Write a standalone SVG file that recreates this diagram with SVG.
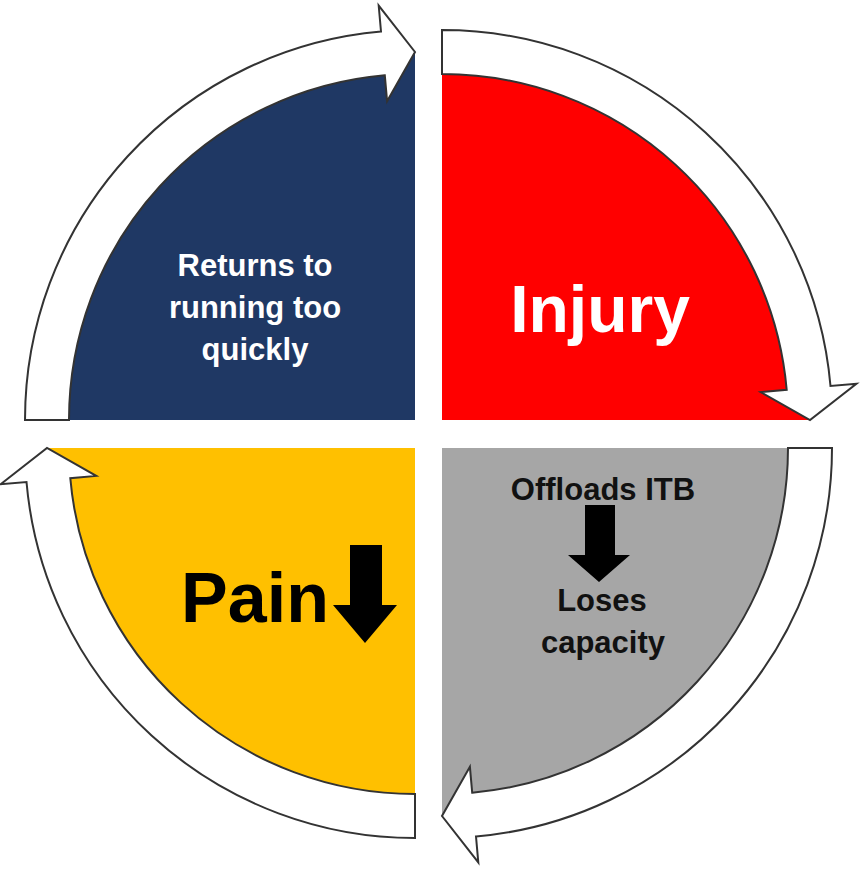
<svg xmlns="http://www.w3.org/2000/svg" width="862" height="886" viewBox="0 0 862 886">
<style>
.arr{fill:#fff;stroke:#333;stroke-width:2;stroke-linejoin:miter}
.t{font-family:"Liberation Sans",Arial,sans-serif;font-weight:bold;text-anchor:middle}
</style>
<rect width="862" height="886" fill="#fff"/>
<g id="returns">
<path d="M415 420 L47 420 A368 368 0 0 1 415 52 Z" fill="#1f3864"/>
<text class="t" fill="#fff" font-size="31" x="255" y="276">Returns to</text>
<text class="t" fill="#fff" font-size="31" x="255" y="318">running too</text>
<text class="t" fill="#fff" font-size="31" x="255" y="360">quickly</text>
</g>
<g id="injury">
<path d="M442 420 L442 52 A368 368 0 0 1 810 420 Z" fill="#ff0000"/>
<text class="t" fill="#fff" font-size="66" x="600" y="332">Injury</text>
</g>
<g id="offloads">
<path d="M442 448 L810 448 A368 368 0 0 1 442 816 Z" fill="#a6a6a6"/>
<text class="t" fill="#111" font-size="31" x="603" y="500">Offloads ITB</text>
<path d="M585 505 H615 V555 H630 L599 582 L568 555 H585 Z" fill="#000"/>
<text class="t" fill="#111" font-size="31" x="602" y="611">Loses</text>
<text class="t" fill="#111" font-size="31" x="603" y="653">capacity</text>
</g>
<g id="pain">
<path d="M415 448 L415 816 A368 368 0 0 1 47 448 Z" fill="#ffc000"/>
<text class="t" fill="#000" font-size="70" x="255" y="622">Pain</text>
<path d="M350 545 H382 V605 H397 L365 643 L333 605 H350 Z" fill="#000"/>
</g>
<g id="connectors">
<path class="arr" d="M25 420 A390 390 0 0 1 381 31.5 L378.7 5.6 L415 52 L387.1 101.2 L384.8 75.3 A346 346 0 0 0 69 420 Z"/>
<path class="arr" d="M442 30 A390 390 0 0 1 830.5 386 L856.4 383.7 L810 420 L760.8 392.1 L786.7 389.8 A346 346 0 0 0 442 74 Z"/>
<path class="arr" d="M832 448 A390 390 0 0 1 476 836.5 L478.3 862.4 L442 816 L469.9 766.8 L472.2 792.7 A346 346 0 0 0 788 448 Z"/>
<path class="arr" d="M415 838 A390 390 0 0 1 26.5 482 L0.6 484.3 L47 448 L96.2 475.9 L70.3 478.2 A346 346 0 0 0 415 794 Z"/>
</g>
</svg>
